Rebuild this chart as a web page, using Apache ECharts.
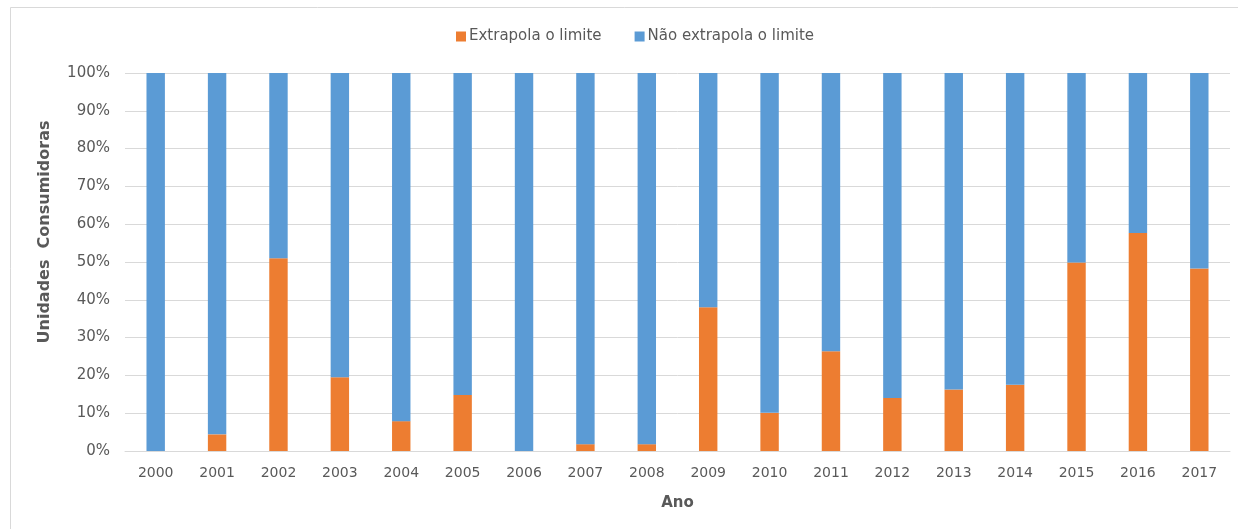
<!DOCTYPE html>
<html>
<head>
<meta charset="utf-8">
<script src="https://cdn.jsdelivr.net/npm/echarts@6/dist/echarts.min.js"></script>
<style>
  html, body { margin: 0; padding: 0; background: #ffffff; }
  #chart { width: 1238px; height: 529px; }
</style>
</head>
<body>
<div id="chart"></div>
<script>
// Anos (eixo das categorias)
const anos = ['2000', '2001', '2002', '2003', '2004', '2005', '2006', '2007', '2008',
              '2009', '2010', '2011', '2012', '2013', '2014', '2015', '2016', '2017'];

// Participação (%) das unidades consumidoras que extrapolam o limite
const extrapola = [0, 4.4, 51.0, 19.5, 7.9, 14.8, 0, 1.8, 1.8,
                   38.0, 10.1, 26.4, 14.0, 16.3, 17.5, 49.9, 57.7, 48.3];

// Participação (%) das unidades consumidoras que não extrapolam o limite
const naoExtrapola = [100, 95.6, 49.0, 80.5, 92.1, 85.2, 100, 98.2, 98.2,
                      62.0, 89.9, 73.6, 86.0, 83.7, 82.5, 50.1, 42.3, 51.7];

const nomesSeries = ['Extrapola o limite', 'Não extrapola o limite'];
const cores = ['#ED7D31', '#5B9BD5'];

const FONTE = '"DejaVu Sans", Verdana, sans-serif';
const CINZA = '#595959';
const GRADE = '#D9D9D9';

const chart = echarts.init(document.getElementById('chart'), null, { renderer: 'canvas' });

chart.setOption({
  animation: false,
  backgroundColor: '#ffffff',
  textStyle: { fontFamily: FONTE, color: CINZA },
  graphic: [{
    type: 'rect',
    shape: { x: 10.5, y: 7.5, width: 1300, height: 600 },
    style: { fill: 'none', stroke: GRADE, lineWidth: 1 },
    silent: true,
    z: -10
  }],
  legend: {
    left: 451,
    top: 24,
    icon: 'rect',
    itemWidth: 10,
    itemHeight: 10,
    itemGap: 33,
    textStyle: { fontFamily: FONTE, fontSize: 15, color: CINZA, padding: [0, 0, 0, -2] },
    data: nomesSeries
  },
  grid: { left: 125, right: 8, top: 73, bottom: 78, containLabel: false },
  xAxis: {
    type: 'category',
    data: anos,
    name: 'Ano',
    nameLocation: 'middle',
    nameGap: 45,
    nameTextStyle: { fontFamily: FONTE, fontSize: 15, fontWeight: 'bold', color: CINZA },
    axisLine: { show: true, lineStyle: { color: GRADE, width: 1 } },
    axisTick: { show: false },
    axisLabel: { fontFamily: FONTE, fontSize: 14, color: CINZA, margin: 15 }
  },
  yAxis: {
    type: 'value',
    min: 0,
    max: 100,
    interval: 10,
    name: 'Unidades  Consumidoras',
    nameLocation: 'middle',
    nameGap: 72,
    nameTextStyle: { fontFamily: FONTE, fontSize: 16, fontWeight: 'bold', color: CINZA, padding: [0, 0, 0, 60] },
    axisLine: { show: false },
    axisTick: { show: false },
    axisLabel: { fontFamily: FONTE, fontSize: 15, color: CINZA, margin: 15, formatter: '{value}%' },
    splitLine: { show: true, lineStyle: { color: GRADE, width: 1 } }
  },
  series: [
    {
      name: nomesSeries[0],
      type: 'bar',
      stack: 'total',
      data: extrapola,
      barWidth: '30%',
      itemStyle: { color: cores[0] }
    },
    {
      name: nomesSeries[1],
      type: 'bar',
      stack: 'total',
      data: naoExtrapola,
      barWidth: '30%',
      itemStyle: { color: cores[1] }
    }
  ]
});
</script>
</body>
</html>
